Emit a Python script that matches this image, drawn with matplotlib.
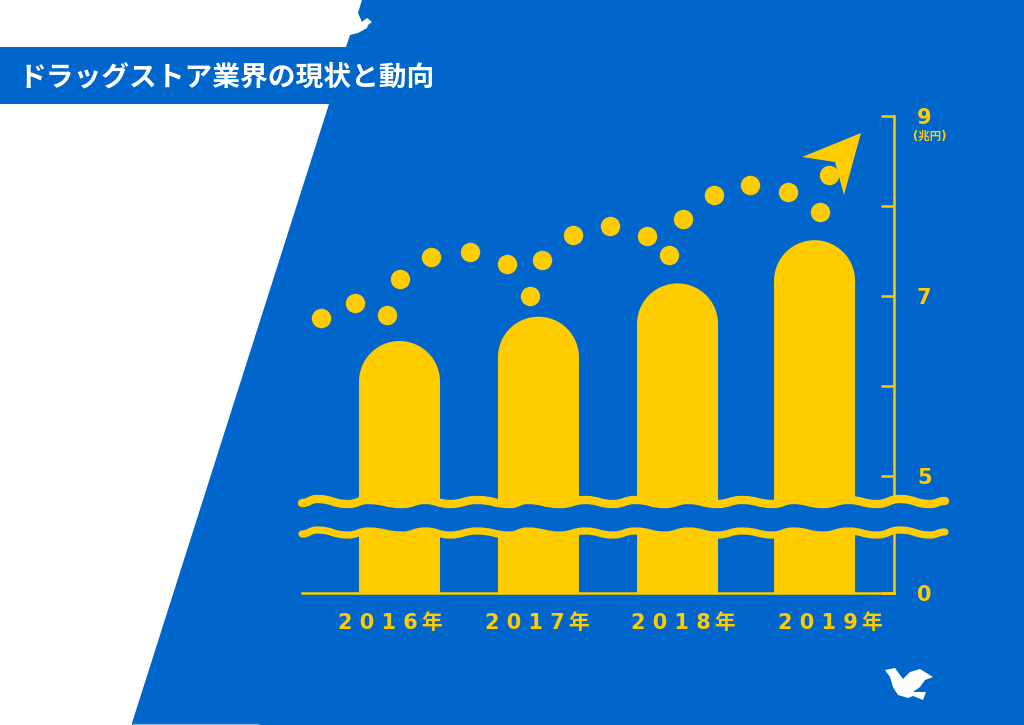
"""ドラッグストア業界の現状と動向
"""

import matplotlib
matplotlib.use('Agg')
import numpy as np
from matplotlib import pyplot
from matplotlib.patches import Ellipse, PathPatch, Polygon
from matplotlib.path import Path
from matplotlib.ticker import NullLocator

pyplot.rcParams['font.family'] = ['Noto Sans CJK JP', 'DejaVu Sans']
LATIN_FIRST = ['DejaVu Sans', 'Noto Sans CJK JP']

BLUE = '#0066cc'
YELLOW = '#ffcc00'

years = ['2016年', '2017年', '2018年', '2019年']
year_pos = [0.0, 1.004, 2.009, 2.999]
sales = [6.50, 6.77, 7.14, 7.62]

# точки идут по времени, x в долях шага между столбцами
dots_x = [-0.57, -0.32, -0.09, 0.0, 0.23, 0.51, 0.78, 0.94, 1.03, 1.25,
          1.52, 1.79, 1.95, 2.05, 2.27, 2.53, 2.81, 3.04, 3.10]
dots_y = [6.76, 6.92, 6.79, 7.19, 7.43, 7.49, 7.36, 7.00, 7.40, 7.68,
          7.78, 7.67, 7.46, 7.86, 8.12, 8.23, 8.16, 7.93, 8.34]

y_ticks = [0, 5, 6, 7, 8, 9]
y_tick_labels = ['0', '5', '', '7', '', '9']

# волна разрыва оси, пиксели картинки
wave_x = [302, 317, 348, 368, 402, 425, 450, 477, 510, 527, 560, 585, 613, 635,
          665, 688, 717, 742, 773, 793, 823, 848, 877, 900, 930, 945]
wave_y = [503, 499, 504, 500, 504, 500, 504, 500, 504, 500, 504, 500, 504, 500,
          504, 500, 504, 500, 504, 500, 504, 500, 504, 499, 504, 501]

dove = [(885, 670), (895, 668), (900, 675), (903, 679), (910, 672), (920, 669),
        (933, 677), (925, 680), (920, 687), (913, 692), (926, 692), (923, 700),
        (913, 696), (908, 698), (898, 695), (893, 687), (890, 677)]
# белый угол вместе с головой голубя
white_top = [(0, 0), (362, 0), (358, 13), (362, 22), (367, 18), (372, 22), (368, 25),
             (367, 28), (358, 33), (350, 35), (346, 47), (0, 47)]
white_low = [(0, 104), (329, 104), (132, 723), (132, 725), (0, 725)]
arrow = [(861, 133), (802, 157), (835, 162), (844, 195)]


def forward(y):
    """сжатый участок 0-5 и обычный 5-9"""
    y = np.asarray(y, dtype=float)
    return np.where(y < 5, y * 117 / 5, 117 + (y - 5) * 90)


def inverse(p):
    p = np.asarray(p, dtype=float)
    return np.where(p < 117, p * 5 / 117, 5 + (p - 117) / 90)


def px_box(left, top, right, bottom):
    return [left / 1024, 1 - bottom / 725, (right - left) / 1024, (bottom - top) / 725]


def wave_verts(shift):
    """вершины кривой Безье через экстремумы волны"""
    verts = [(wave_x[0], wave_y[0] + shift)]
    for i in range(1, len(wave_x)):
        x0, x1 = wave_x[i - 1], wave_x[i]
        y0, y1 = wave_y[i - 1] + shift, wave_y[i] + shift
        mid = (x0 + x1) / 2
        verts += [(mid, y0), (mid, y1), (x1, y1)]
    return verts


def wave_codes(count):
    return [Path.MOVETO] + [Path.CURVE4] * (count - 1)


def pixel_axes(fig, zorder):
    ax = fig.add_axes([0, 0, 1, 1], zorder=zorder)
    ax.patch.set_alpha(0)
    ax.set_xlim(0, 1024)
    ax.set_ylim(725, 0)
    ax.axis('off')
    return ax


def draw_back(fig):
    back = pixel_axes(fig, 0)
    back.add_patch(Polygon(white_top, fc='white', ec='none'))
    back.add_patch(Polygon(white_low, fc='white', ec='none'))
    back.add_patch(Polygon(dove, fc='white', ec='none'))
    back.plot([133, 258], [723.5, 723.5], color='#7fb2e5', lw=1.0)
    back.text(18, 77.5, 'ドラッグストア業界の現状と動向', color='white', fontsize=20,
              fontweight='bold', va='center', ha='left')


def draw_chart(fig):
    step = 138.4
    ax = fig.add_axes(px_box(302, 116, 894, 593), zorder=1)
    ax.patch.set_alpha(0)
    ax.set_xlim((302 - 399.5) / step, (894 - 399.5) / step)
    ax.set_yscale('function', functions=(forward, inverse))
    ax.set_ylim(0, 9)

    bar_w = 81 / step
    round_h = 40.5 / 90
    for x, value in zip(year_pos, sales):
        ax.bar(x, value - round_h, width=bar_w, color=YELLOW, zorder=2, snap=False)
        ax.add_patch(Ellipse((x, value - round_h), bar_w, round_h * 2, fc=YELLOW, ec='none', zorder=2))

    ax.scatter(dots_x, dots_y, s=196, color=YELLOW, linewidths=0, zorder=3)

    for side in ('top', 'left'):
        ax.spines[side].set_visible(False)
    for side in ('right', 'bottom'):
        ax.spines[side].set_color(YELLOW)
        ax.spines[side].set_linewidth(1.8)

    ax.set_yticks(y_ticks, y_tick_labels, fontsize=15, fontweight='bold', color=YELLOW, family=LATIN_FIRST)
    ax.yaxis.set_minor_locator(NullLocator())
    ax.tick_params(axis='y', direction='in', left=False, labelleft=False, right=True, labelright=True,
                   length=9.5, width=1.8, color=YELLOW, pad=16.5)

    labels = [' '.join(y[:4]) + '\u2009' + y[4] for y in years]
    ax.set_xticks([(c - 399.5) / step for c in (390.5, 537.5, 683.5, 830.5)], labels,
                  fontsize=15, fontweight='bold', color=YELLOW, family=LATIN_FIRST)
    ax.tick_params(axis='x', length=0, pad=14.5)


def draw_over(fig):
    over = pixel_axes(fig, 2)
    top = wave_verts(0)
    low = wave_verts(31)
    band = top + [low[-1]] + low[::-1][1:] + [top[0]]
    band_codes = wave_codes(len(top)) + [Path.LINETO] + [Path.CURVE4] * (len(low) - 1) + [Path.CLOSEPOLY]
    over.add_patch(PathPatch(Path(band, band_codes), fc=BLUE, ec='none', zorder=1))
    over.add_patch(PathPatch(Path(top, wave_codes(len(top))), fill=False, ec=YELLOW, lw=6,
                             capstyle='round', zorder=2))
    over.add_patch(PathPatch(Path(low, wave_codes(len(low))), fill=False, ec=YELLOW, lw=5.2,
                             capstyle='round', zorder=2))
    over.add_patch(Polygon(arrow, fc=YELLOW, ec='none', zorder=3))
    over.text(930, 136, '(兆円)', color=YELLOW, fontsize=8.3, fontweight='bold',
              family=LATIN_FIRST, ha='center', va='center')


def create_plot():
    fig = pyplot.figure(figsize=(10.24, 7.25), dpi=100, facecolor=BLUE)
    draw_back(fig)
    draw_chart(fig)
    draw_over(fig)
    fig.savefig('out.png', dpi=100, facecolor=BLUE)


create_plot()
